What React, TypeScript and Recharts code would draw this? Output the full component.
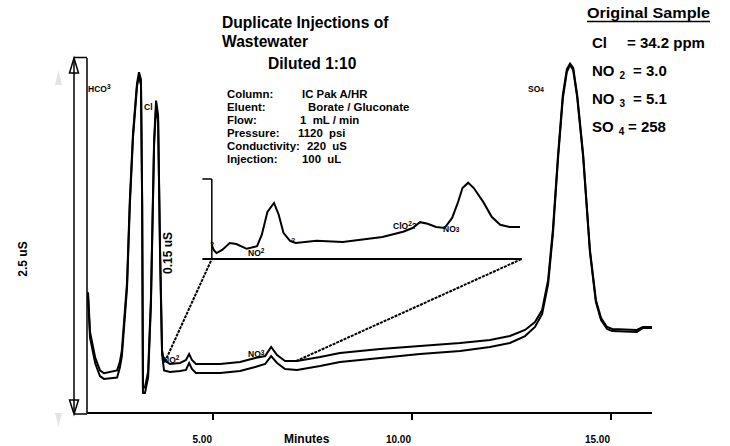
import React from 'react';
import { LineChart, Line, XAxis, YAxis, ReferenceLine, Customized } from 'recharts';

const FONT = 'Liberation Sans, Arial, Helvetica, sans-serif';

// minutes, uS  (first injection, upper trace)
const injection1: [number, number][] = [
  [1.86, 0.85], [1.91, 0.57], [2.04, 0.39], [2.16, 0.30], [2.26, 0.28], [2.59, 0.30], [2.66, 0.36],
  [2.71, 0.44], [2.84, 0.92], [2.91, 1.50], [2.99, 1.97], [3.09, 2.32], [3.14, 2.40], [3.19, 2.35],
  [3.22, 1.50], [3.24, 0.18], [3.29, 0.18], [3.37, 0.29], [3.44, 0.80], [3.52, 1.92], [3.57, 2.20],
  [3.62, 2.10], [3.67, 1.15], [3.72, 0.44], [3.77, 0.37], [3.92, 0.345], [4.17, 0.352], [4.32, 0.373],
  [4.40, 0.415], [4.47, 0.373], [4.57, 0.345], [5.18, 0.345], [5.68, 0.359], [6.06, 0.387], [6.31, 0.401],
  [6.46, 0.465], [6.61, 0.408], [6.81, 0.366], [7.11, 0.366], [7.69, 0.394], [8.19, 0.423], [9.20, 0.451],
  [10.20, 0.472], [11.21, 0.493], [11.96, 0.514], [12.46, 0.542], [12.84, 0.585], [13.09, 0.641],
  [13.27, 0.725], [13.42, 0.937], [13.54, 1.29], [13.67, 1.82], [13.79, 2.24], [13.89, 2.42], [13.97, 2.46],
  [14.05, 2.43], [14.15, 2.24], [14.30, 1.82], [14.47, 1.15], [14.62, 0.796], [14.75, 0.669], [14.90, 0.606],
  [15.03, 0.592], [15.65, 0.585], [15.80, 0.606], [16.03, 0.606],
];

// second injection, lower trace
const injection2: [number, number][] = [
  [1.86, 0.82], [1.91, 0.53], [2.04, 0.35], [2.16, 0.26], [2.26, 0.24], [2.59, 0.25], [2.66, 0.32],
  [2.71, 0.40], [2.84, 0.88], [2.91, 1.46], [2.99, 1.94], [3.09, 2.30], [3.14, 2.37], [3.19, 2.31],
  [3.22, 1.46], [3.24, 0.14], [3.29, 0.14], [3.37, 0.25], [3.44, 0.76], [3.52, 1.89], [3.57, 2.16],
  [3.62, 2.06], [3.67, 1.11], [3.72, 0.41], [3.77, 0.30], [3.92, 0.289], [4.17, 0.296], [4.32, 0.303],
  [4.40, 0.352], [4.47, 0.310], [4.57, 0.282], [5.18, 0.282], [5.68, 0.296], [6.06, 0.324], [6.31, 0.345],
  [6.46, 0.401], [6.61, 0.352], [6.81, 0.310], [7.11, 0.303], [7.69, 0.331], [8.19, 0.359], [9.20, 0.387],
  [10.20, 0.415], [11.21, 0.437], [11.96, 0.465], [12.46, 0.493], [12.84, 0.542], [13.09, 0.606],
  [13.27, 0.697], [13.42, 0.908], [13.54, 1.261], [13.67, 1.796], [13.79, 2.218], [13.89, 2.401],
  [13.97, 2.451], [14.05, 2.415], [14.15, 2.225], [14.30, 1.803], [14.47, 1.134], [14.62, 0.782],
  [14.75, 0.655], [14.90, 0.592], [15.03, 0.577], [15.65, 0.570], [15.80, 0.599], [16.03, 0.599],
];

// expanded view of 3.7 - 7.0 min, uS above inset baseline
const insetTrace: [number, number][] = [
  [3.74, 0.026], [3.76, 0.017], [3.79, 0.011], [3.85, 0.017], [3.93, 0.030], [4.00, 0.028], [4.11, 0.019],
  [4.22, 0.024], [4.27, 0.045], [4.33, 0.088], [4.40, 0.105], [4.45, 0.083], [4.50, 0.049], [4.57, 0.034],
  [4.63, 0.030], [4.85, 0.034], [5.13, 0.032], [5.55, 0.041], [5.77, 0.051], [5.87, 0.058], [5.95, 0.069],
  [6.03, 0.066], [6.12, 0.060], [6.21, 0.058], [6.29, 0.077], [6.35, 0.105], [6.40, 0.133], [6.46, 0.143],
  [6.52, 0.133], [6.62, 0.107], [6.71, 0.079], [6.80, 0.064], [6.90, 0.060], [7.01, 0.060],
];

const timeTicks = [5, 10, 15];

const conditions: [string, string][] = [
  ['Column:', 'IC Pak A/HR'],
  ['Eluent:', 'Borate / Gluconate'],
  ['Flow:', '1  mL / min'],
  ['Pressure:', '1120  psi'],
  ['Conductivity:', '220  uS'],
  ['Injection:', '100  uL'],
];

const sampleResults: { ion: string; sub: string; value: string }[] = [
  { ion: 'Cl', sub: '', value: '= 34.2 ppm' },
  { ion: 'NO', sub: '2', value: '= 3.0' },
  { ion: 'NO', sub: '3', value: '= 5.1' },
  { ion: 'SO', sub: '4', value: '= 258' },
];

const MAIN_T: [number, number] = [1.834, 16.03];
const MAIN_V: [number, number] = [0, 2.5];
const INSET_T: [number, number] = [3.74, 7.03];
const INSET_V: [number, number] = [0, 0.15];
// where the expanded view sits, in main-axis units
const INSET_BOX_T: [number, number] = [4.97, 12.76];
const INSET_BOX_V: [number, number] = [1.085, 1.648];

function stretch(win: [number, number], box: [number, number], main: [number, number]): [number, number] {
  const k = (win[1] - win[0]) / (box[1] - box[0]);
  return [win[0] - (box[0] - main[0]) * k, win[1] + (main[1] - box[1]) * k];
}

const insetTDomain = stretch(INSET_T, INSET_BOX_T, MAIN_T);
const insetVDomain = stretch(INSET_V, INSET_BOX_V, MAIN_V);

const toPoints = (arr: [number, number][]) => arr.map(([t, v]) => ({ t, v }));
const data1 = toPoints(injection1);
const data2 = toPoints(injection2);
const dataInset = toPoints(insetTrace);

function TimeTick(props: any) {
  const { x, y, payload } = props;
  return (
    <text x={x - 1} y={y + 21} textAnchor="end" fontFamily={FONT} fontWeight="bold" fontSize={10} fill="#000">
      {Number(payload.value).toFixed(2)}
    </text>
  );
}

function Annotations() {
  const valueX = [627, 633, 633, 628];
  const condX = [302, 308, 300, 298, 307, 302];
  return (
    <g fontFamily={FONT} fontWeight="bold" fill="#000">
      {/* title */}
      <text x={222} y={28} fontSize={15.6}>Duplicate Injections of</text>
      <text x={222} y={47} fontSize={15.6}>Wastewater</text>
      <text x={268} y={69} fontSize={15.6}>Diluted 1:10</text>

      {conditions.map(([label, val], i) => (
        <g key={label} fontSize={11.4}>
          <text x={227} y={98 + i * 13}>{label}</text>
          <text x={condX[i]} y={98 + i * 13} style={{ whiteSpace: 'pre' }}>{val}</text>
        </g>
      ))}

      {/* original sample */}
      <text x={587} y={18} fontSize={14} textLength={123} lengthAdjust="spacingAndGlyphs">Original Sample</text>
      <line x1={587} x2={710} y1={21.5} y2={21.5} stroke="#000" strokeWidth={1.5} />
      {sampleResults.map((r, i) => (
        <g key={i} fontSize={15}>
          <text x={592} y={48 + i * 28}>
            {r.ion}
            {r.sub && <tspan fontSize={10} dx={5} dy={3}>{r.sub}</tspan>}
          </text>
          <text x={valueX[i]} y={48 + i * 28}>{r.value}</text>
        </g>
      ))}

      {/* axis captions */}
      <text x={284} y={443} fontSize={12}>Minutes</text>
      <text transform="translate(27,259) rotate(-90)" textAnchor="middle" fontSize={12}>2.5 uS</text>
      <text transform="translate(172,253) rotate(-90)" textAnchor="middle" fontSize={12}>0.15 uS</text>

      {/* 2.5 uS scale arrow */}
      <line x1={74} x2={87} y1={57.5} y2={57.5} stroke="#000" strokeWidth={1.5} />
      <line x1={74} x2={87} y1={414} y2={414} stroke="#000" strokeWidth={1.5} />
      <path d="M74,58 L69.5,73 L78.5,73 Z" fill="#fff" stroke="#000" strokeWidth={1.5} />
      <path d="M74,414 L69.5,400 L78.5,400 Z" fill="#fff" stroke="#000" strokeWidth={1.5} />
      <line x1={74} x2={74} y1={60} y2={412} stroke="#000" strokeWidth={1.5} />
      <path d="M58.5,70 L55,85 L62,85 Z" fill="#e4e4e4" />
      <path d="M58.5,427 L55,413 L62,413 Z" fill="#e4e4e4" />

      {/* peak names, main traces */}
      <g fontSize={8.5}>
        <text x={88} y={92}>HCO<tspan fontSize={6.5} dy={-3}>3</tspan></text>
        <text x={144} y={110}>Cl</text>
        <text x={163} y={363}>NO<tspan fontSize={6.5} dy={-3}>2</tspan></text>
        <text x={248} y={357}>NO<tspan fontSize={6.5} dy={-2}>3</tspan></text>
        <text x={528} y={92}>SO<tspan fontSize={6.5}>4</tspan></text>
      </g>

      {/* peak names, expanded view */}
      <g fontSize={8.5}>
        <text x={210} y={247} fontSize={7}>?</text>
        <text x={248} y={256}>NO<tspan fontSize={6.5} dy={-3}>2</tspan></text>
        <text x={291} y={243} fontSize={7}>?</text>
        <text x={393} y={229}>ClO<tspan fontSize={6.5} dy={-3}>2</tspan><tspan dy={3}>?</tspan></text>
        <text x={443} y={232}>NO<tspan fontSize={6.5}>3</tspan></text>
      </g>
    </g>
  );
}

export default function App() {
  return (
    <div style={{ position: 'absolute', left: 0, top: 0, width: 730, height: 446, background: '#fff' }}>
      <LineChart width={730} height={446} margin={{ top: 58, right: 78, bottom: 0, left: 87 }}>
        <XAxis
          xAxisId="main"
          type="number"
          dataKey="t"
          domain={MAIN_T}
          allowDataOverflow
          ticks={timeTicks}
          height={33}
          tickSize={7}
          tick={<TimeTick />}
          axisLine={{ stroke: '#000', strokeWidth: 2 }}
          tickLine={{ stroke: '#000', strokeWidth: 2 }}
        />
        <YAxis yAxisId="main" type="number" domain={MAIN_V} allowDataOverflow hide width={0} />
        <XAxis xAxisId="inset" type="number" dataKey="t" domain={insetTDomain} allowDataOverflow hide height={0} />
        <YAxis yAxisId="inset" type="number" domain={insetVDomain} allowDataOverflow hide width={0} />

        {/* signal axis line */}
        <ReferenceLine xAxisId="main" yAxisId="main" ifOverflow="visible" stroke="#000" strokeWidth={1.5}
          segment={[{ x: MAIN_T[0], y: MAIN_V[0] }, { x: MAIN_T[0], y: MAIN_V[1] }]} />

        <Line xAxisId="main" yAxisId="main" data={data1} dataKey="v" type="linear" stroke="#000" strokeWidth={2} dot={false} isAnimationActive={false} />
        <Line xAxisId="main" yAxisId="main" data={data2} dataKey="v" type="linear" stroke="#000" strokeWidth={2} dot={false} isAnimationActive={false} />
        <Line xAxisId="inset" yAxisId="inset" data={dataInset} dataKey="v" type="linear" stroke="#000" strokeWidth={2} dot={false} isAnimationActive={false} />

        {/* expanded-view frame */}
        <ReferenceLine xAxisId="inset" yAxisId="inset" ifOverflow="visible" stroke="#000" strokeWidth={1.5}
          segment={[{ x: INSET_T[0], y: INSET_V[0] }, { x: INSET_T[0], y: INSET_V[1] }]} />
        <ReferenceLine xAxisId="inset" yAxisId="inset" ifOverflow="visible" stroke="#000" strokeWidth={1.5}
          segment={[{ x: INSET_T[0] - 0.1, y: INSET_V[1] }, { x: INSET_T[0], y: INSET_V[1] }]} />
        <ReferenceLine xAxisId="inset" yAxisId="inset" ifOverflow="visible" stroke="#000" strokeWidth={2}
          segment={[{ x: INSET_T[0] - 0.1, y: INSET_V[0] }, { x: INSET_T[1], y: INSET_V[0] }]} />

        {/* zoom connectors */}
        <ReferenceLine xAxisId="main" yAxisId="main" ifOverflow="visible" stroke="#000" strokeWidth={2} strokeDasharray="3 1"
          segment={[{ x: 3.79, y: 0.36 }, { x: INSET_BOX_T[0], y: INSET_BOX_V[0] }]} />
        <ReferenceLine xAxisId="main" yAxisId="main" ifOverflow="visible" stroke="#000" strokeWidth={2} strokeDasharray="3 1"
          segment={[{ x: 7.09, y: 0.366 }, { x: INSET_BOX_T[1], y: INSET_BOX_V[0] }]} />

        <Customized component={Annotations} />
      </LineChart>
    </div>
  );
}
